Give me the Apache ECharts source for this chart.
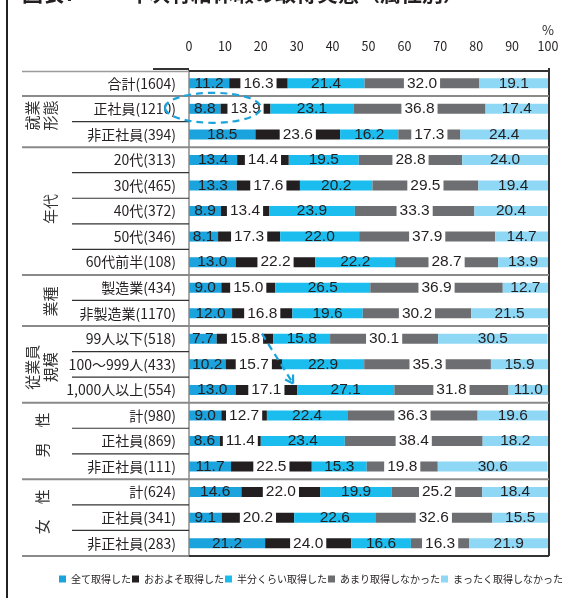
<!DOCTYPE html>
<html lang="ja">
<head>
<meta charset="utf-8">
<script src="https://cdn.jsdelivr.net/npm/echarts@6/dist/echarts.min.js"></script>
<style>
  html, body { margin: 0; padding: 0; background: #fff; }
  #chart { width: 571px; height: 598px; }
</style>
</head>
<body>
<div id="chart"></div>
<script>
// 年次有給休暇の取得実態（属性別）, 単位: %
const categories = [
  '合計(1604)', '正社員(1210)', '非正社員(394)',
  '20代(313)', '30代(465)', '40代(372)', '50代(346)', '60代前半(108)',
  '製造業(434)', '非製造業(1170)',
  '99人以下(518)', '100〜999人(433)', '1,000人以上(554)',
  '計(980)', '正社員(869)', '非正社員(111)',
  '計(624)', '正社員(341)', '非正社員(283)'
];
const seriesNames = ['全て取得した', 'おおよそ取得した', '半分くらい取得した', 'あまり取得しなかった', 'まったく取得しなかった'];
const fullyTaken  = [11.2, 8.8, 18.5, 13.4, 13.3, 8.9, 8.1, 13.0, 9.0, 12.0, 7.7, 10.2, 13.0, 9.0, 8.6, 11.7, 14.6, 9.1, 21.2];
const mostlyTaken = [16.3, 13.9, 23.6, 14.4, 17.6, 13.4, 17.3, 22.2, 15.0, 16.8, 15.8, 15.7, 17.1, 12.7, 11.4, 22.5, 22.0, 20.2, 24.0];
const halfTaken   = [21.4, 23.1, 16.2, 19.5, 20.2, 23.9, 22.0, 22.2, 26.5, 19.6, 15.8, 22.9, 27.1, 22.4, 23.4, 15.3, 19.9, 22.6, 16.6];
const rarelyTaken = [32.0, 36.8, 17.3, 28.8, 29.5, 33.3, 37.9, 28.7, 36.9, 30.2, 30.1, 35.3, 31.8, 36.3, 38.4, 19.8, 25.2, 32.6, 16.3];
const neverTaken  = [19.1, 17.4, 24.4, 24.0, 19.4, 20.4, 14.7, 13.9, 12.7, 21.5, 30.5, 15.9, 11.0, 19.6, 18.2, 30.6, 18.4, 15.5, 21.9];
const axisTicks = [0, 10, 20, 30, 40, 50, 60, 70, 80, 90, 100];

// 属性グループ（先頭行・末尾行・見出し）
const groups = [
  { from: 1,  to: 2,  label: '就業\n形態' },
  { from: 3,  to: 7,  label: '年代' },
  { from: 8,  to: 9,  label: '業種' },
  { from: 10, to: 12, label: '従業員\n規模' },
  { from: 13, to: 15, label: '男　性' },
  { from: 16, to: 18, label: '女　性' }
];

const colors = ['#1ba3dd', '#231f20', '#1bbcee', '#6d6e71', '#8ed8f6'];
const darkSeries = [false, true, false, true, false];
const FONT = '"Liberation Sans", "Noto Sans CJK JP", sans-serif';
const LABEL_FONT = '"Liberation Sans Narrow", "Noto Sans CJK JP", sans-serif';
const CJK_FONT = '"Noto Sans CJK JP", sans-serif';
const INK = '#231f20';

const values = [fullyTaken, mostlyTaken, halfTaken, rarelyTaken, neverTaken];

const chart = echarts.init(document.getElementById('chart'), null, { renderer: 'canvas' });

const series = seriesNames.map((name, k) => ({
  name,
  type: 'bar',
  stack: 'total',
  barWidth: 10,
  data: values[k],
  itemStyle: { color: colors[k] },
  label: Object.assign({
    show: true,
    position: 'inside',
    color: INK,
    fontFamily: FONT,
    fontSize: 15.5,
    formatter: p => p.value.toFixed(1)
  }, darkSeries[k] ? { backgroundColor: '#fff', padding: [1, 3], lineHeight: 13 } : {}),
  emphasis: { disabled: true }
}));

chart.setOption({
  animation: false,
  backgroundColor: '#fff',
  grid: { left: 189, right: 23, top: 70.5, bottom: 42, containLabel: false },
  xAxis: {
    type: 'value',
    position: 'top',
    min: axisTicks[0],
    max: axisTicks[axisTicks.length - 1],
    interval: axisTicks[1] - axisTicks[0],
    axisLine: { show: true, lineStyle: { color: '#333', width: 2 } },
    axisTick: { show: false },
    splitLine: { show: false },
    axisLabel: { color: INK, fontSize: 12.5, fontFamily: LABEL_FONT, margin: 18 }
  },
  yAxis: {
    type: 'category',
    inverse: true,
    data: categories.map((_, i) => 'r' + i),
    axisLine: { show: true, lineStyle: { color: '#8a8a8a', width: 1.5 } },
    axisTick: { show: false },
    axisLabel: {
      color: INK, fontSize: 14, fontFamily: LABEL_FONT, margin: 13,
      formatter: (v, i) => categories[i]
    }
  },
  legend: {
    left: 54, top: 569, width: 517,
    icon: 'rect', itemWidth: 7, itemHeight: 7, itemGap: 1,
    textStyle: { color: INK, fontSize: 10, fontFamily: CJK_FONT },
    data: seriesNames
  },
  series
});

// 枠線・区切り線・グループ見出し・注記
const px = (v, i) => chart.convertToPixel({ gridIndex: 0 }, [v, i]);
const rowY = i => px(0, i)[1];
const band = rowY(1) - rowY(0);
const x0 = px(0, 0)[0];
const x100 = px(100, 0)[0];
const topY = rowY(0) - band / 2;
const groupEnds = new Set([0].concat(groups.map(g => g.to)));

const elements = [];
const line = (x1, y1, x2, y2, stroke, w, z) => elements.push({
  type: 'line', z: z || 10, silent: true,
  shape: { x1, y1, x2, y2 }, style: { stroke, lineWidth: w }
});

// 左端の縦線
line(7, 0, 7, 598, '#222', 2);
// 上辺
line(22, topY + 1, x0, topY + 1, '#9a9a9a', 1.5);
line(153, topY - 1.5, x0, topY - 1.5, '#333', 2);
// 右辺
line(x100 + 1, topY - 2.5, x100 + 1, rowY(18) + band / 2, '#333', 2);

for (let r = 0; r < categories.length; r++) {
  const y = rowY(r) + band / 2;
  if (groupEnds.has(r)) {
    const last = r === categories.length - 1;
    line(22, y, x0, y, '#8a8a8a', 2);
    line(x0, y, x100 + 1, y, last ? '#333' : '#8a8a8a', 2);
  } else {
    line(72, y, x0, y, '#333', 1.2);
  }
}

const groupOffsets = [-6, -2, 1, 3, -6, -6];
const groupX = [41, 50, 50, 41, 42, 42];
groups.forEach((g, idx) => {
  const cy = (rowY(g.from) + rowY(g.to)) / 2 + groupOffsets[idx];
  elements.push({
    type: 'text', z: 20, silent: true,
    x: groupX[idx], y: cy, rotation: Math.PI / 2,
    style: {
      text: g.label, fill: '#333', fontSize: 15, lineHeight: 18,
      fontFamily: CJK_FONT, align: 'center', verticalAlign: 'middle'
    }
  });
});

// 単位
elements.push({
  type: 'text', z: 20, silent: true, x: x100, y: 30,
  style: { text: '%', fill: INK, fontSize: 13, fontFamily: LABEL_FONT, align: 'center', verticalAlign: 'middle' }
});

// 表題（上端で切れている）
elements.push({
  type: 'text', z: 20, silent: true, x: 22, y: 4,
  style: {
    text: '図表7', fill: INK, fontSize: 21, fontWeight: 'bold',
    fontFamily: CJK_FONT, align: 'left', verticalAlign: 'bottom'
  }
});
elements.push({
  type: 'text', z: 20, silent: true, x: 128, y: 4,
  style: {
    text: '年次有給休暇の取得実態（属性別）', fill: INK, fontSize: 21, fontWeight: 'bold',
    fontFamily: CJK_FONT, align: 'left', verticalAlign: 'bottom'
  }
});

// 注記: 正社員の「全て取得した」「おおよそ取得した」を囲む楕円
const ec = px(6.4, 1);
elements.push({
  type: 'ellipse', z: 30, silent: true,
  shape: { cx: ec[0] + 1, cy: ec[1] - 1, rx: 48, ry: 15 },
  style: { fill: 'none', stroke: '#1ba3dd', lineWidth: 2.2, lineDash: [7, 5] }
});

// 注記: 従業員規模が大きいほど「半分くらい取得した」が多い
const a1 = px(20.3, 10); a1[1] -= band * 0.2;
const a2 = px(29.0, 12); a2[1] -= band * 0.25;
elements.push({
  type: 'line', z: 30, silent: true,
  shape: { x1: a1[0], y1: a1[1], x2: a2[0], y2: a2[1] },
  style: { stroke: '#1ba3dd', lineWidth: 2.2, lineDash: [7, 5] }
});
const ang = Math.atan2(a2[1] - a1[1], a2[0] - a1[0]);
[0.55, -0.55].forEach(d => {
  elements.push({
    type: 'line', z: 30, silent: true,
    shape: {
      x1: a2[0], y1: a2[1],
      x2: a2[0] - 9 * Math.cos(ang + d), y2: a2[1] - 9 * Math.sin(ang + d)
    },
    style: { stroke: '#1ba3dd', lineWidth: 2.2 }
  });
});

chart.setOption({ graphic: { elements } });
</script>
</body>
</html>
